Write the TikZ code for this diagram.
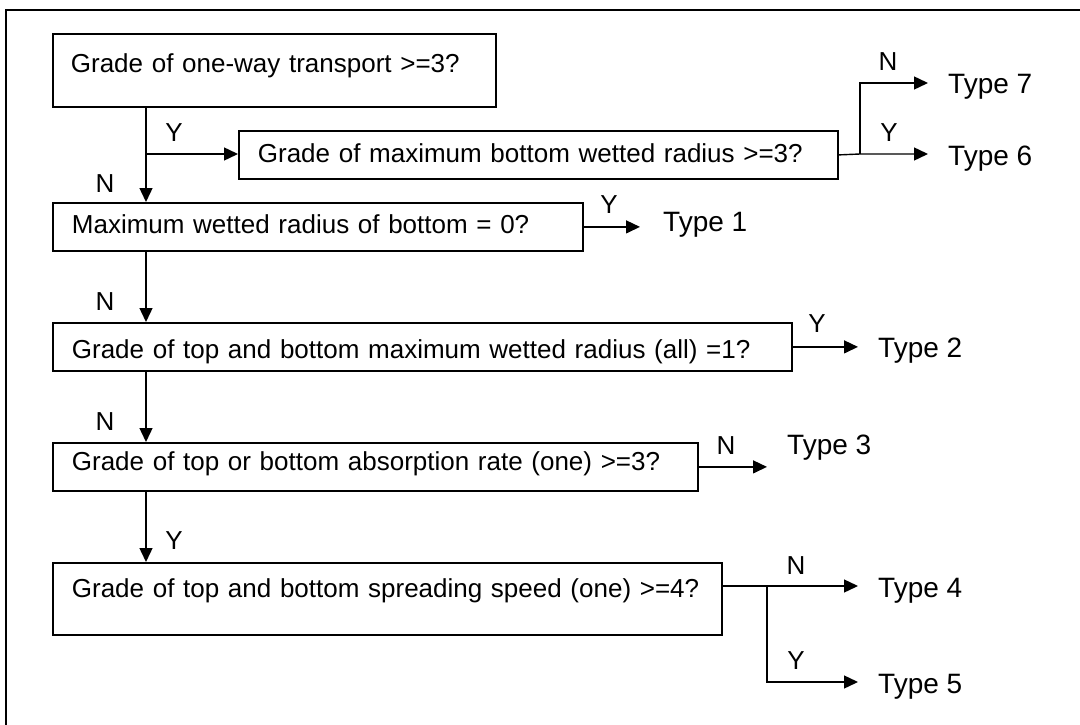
\documentclass[tikz,border=0pt]{standalone}
\usepackage{fontspec}
\setmainfont{Liberation Sans}
\usetikzlibrary{arrows.meta}
\begin{document}
\begin{tikzpicture}[x=1pt,y=-1pt,
  box/.style={draw, line width=1.8pt, anchor=north west, inner xsep=19pt, inner ysep=0pt,
    align=left, font=\fontsize{26}{31}\selectfont},
  typelab/.style={anchor=base west, inner xsep=20pt, inner ysep=0pt, font=\fontsize{28}{33}\selectfont},
  yn/.style={anchor=base, inner sep=0pt, font=\fontsize{26}{31}\selectfont},
  conn/.style={line width=1.4pt},
  arr/.style={conn, -{Triangle[length=14pt,width=13pt]}},
  frame/.style={line width=2pt}]
\useasboundingbox (0,0) rectangle (1080,725);
\clip (0,0) rectangle (1080,725);
\draw[frame] (6,760) -- (6,10) -- (1100,10);

% boxes
\node[box, inner xsep=18pt, text width=407pt, text height=39pt, text depth=34pt] (A) at (52,33) {Grade of one-way transport >=3?};
\node[box, text width=561pt, text height=32pt, text depth=16pt] (B) at (238,130) {Grade of maximum bottom wetted radius >=3?};
\node[box, text width=492pt, text height=31pt, text depth=17pt] (C) at (52,202) {Maximum wetted radius of bottom = 0?};
\node[box, text width=701pt, text height=36pt, text depth=12pt] (D) at (52,322) {Grade of top and bottom maximum wetted radius (all) =1?};
\node[box, text width=607pt, text height=28pt, text depth=20pt] (E) at (52,442) {Grade of top or bottom absorption rate (one) >=3?};
\node[box, text width=631pt, text height=35pt, text depth=37pt] (F) at (52,562) {Grade of top and bottom spreading speed (one) >=4?};

% result labels
\node[typelab] (T7) at (928,94) {Type 7};
\node[typelab] (T6) at (928,165) {Type 6};
\node[typelab, inner xsep=23pt] (T1) at (640,231) {Type 1};
\node[typelab] (T2) at (858,357) {Type 2};
\node[typelab] (T3) at (767,454) {Type 3};
\node[typelab] (T4) at (858,597) {Type 4};
\node[typelab] (T5) at (858,693) {Type 5};

% junction coordinates
\coordinate (sp) at (146,154);
\coordinate (j1) at (860,154);
\coordinate (j2) at (860,83);
\coordinate (j3) at (767,586);
\coordinate (j4) at (767,682);

% main column
\draw[arr] (A.south -| sp) -- (C.north -| sp);
\draw[arr] (sp) -- (sp -| B.west);
\draw[arr] (C.south -| sp) -- (D.north -| sp);
\draw[arr] (D.south -| sp) -- (E.north -| sp);
\draw[arr] (E.south -| sp) -- (F.north -| sp);

% branches
\draw[arr] (B.east) -- (j1) -- (j1 -| T6.west);
\draw[arr] (j1) -- (j2) -- (j2 -| T7.west);
\draw[arr] (C.east) -- (C.east -| T1.west);
\draw[arr] (D.east) -- (D.east -| T2.west);
\draw[arr] (E.east) -- (E.east -| T3.west);
\draw[conn] (F.east |- j3) -- (j3);
\draw[arr] (j3) -- (j3 -| T4.west);
\draw[arr] (j3) -- (j4) -- (j4 -| T5.west);

% Y/N labels
\node[yn] (yA) at (174,142) {Y};
\node[yn] (nAC) at (105,192) {N};
\node[yn] (nCD) at (105,310) {N};
\node[yn] (nDE) at (105,430) {N};
\node[yn] (yEF) at (174,549) {Y};
\node[yn] (y1) at (609,213) {Y};
\node[yn] (n7) at (888,71) {N};
\node[yn] (y6) at (889,141) {Y};
\node[yn] (y2) at (817,332) {Y};
\node[yn] (n3) at (726,454) {N};
\node[yn] (n4) at (796,574) {N};
\node[yn] (y5) at (796,669) {Y};
\end{tikzpicture}
\end{document}
